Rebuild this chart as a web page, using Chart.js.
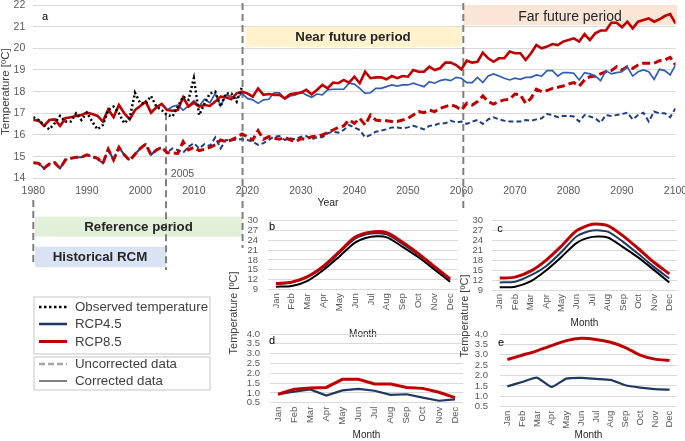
<!DOCTYPE html>
<html><head><meta charset="utf-8">
<script src="https://cdn.jsdelivr.net/npm/chart.js@4.4.1/dist/chart.umd.min.js"></script>
<style>
html,body{margin:0;padding:0;background:#fff;}
#wrap{position:relative;width:685px;height:441px;overflow:hidden;font-family:"Liberation Sans",Arial,sans-serif;background:#fff;}
canvas{position:absolute;}
.t{position:absolute;white-space:nowrap;transform:translate(-50%,-50%);line-height:1;}
.rot{position:absolute;white-space:nowrap;transform:translate(-50%,-50%) rotate(-90deg);line-height:1;font-size:11px;color:#404040;}
.lg{position:absolute;white-space:nowrap;transform:translateY(-50%);line-height:1;font-size:13.3px;color:#404040;}
.box{font-weight:bold;font-size:13.3px;color:#262626;}
</style></head><body>
<div id="wrap">
<canvas id="cMain" width="685" height="441" style="left:0;top:0"></canvas>
<canvas id="cB"></canvas>
<canvas id="cC"></canvas>
<canvas id="cD"></canvas>
<canvas id="cE"></canvas>
<svg width="685" height="441" style="position:absolute;left:0;top:0;pointer-events:none">
  <rect x="34" y="297" width="176" height="57" fill="none" stroke="#d9d9d9" stroke-width="1.5"/>
  <rect x="34" y="357" width="176" height="33" fill="none" stroke="#d9d9d9" stroke-width="1.5"/>
  <line x1="39" y1="307" x2="67" y2="307" stroke="#000" stroke-width="2.5" stroke-dasharray="2.5 2.5"/>
  <line x1="39" y1="324" x2="67" y2="324" stroke="#1f3864" stroke-width="2.5"/>
  <line x1="39" y1="341.5" x2="67" y2="341.5" stroke="#c00000" stroke-width="3"/>
  <line x1="39" y1="364" x2="67" y2="364" stroke="#a6a6a6" stroke-width="2.5" stroke-dasharray="6 3"/>
  <line x1="39" y1="381" x2="67" y2="381" stroke="#7f7f7f" stroke-width="2"/>
</svg>
<div class="lg" style="left:75px;top:307px">Observed temperature</div>
<div class="lg" style="left:75px;top:324px">RCP4.5</div>
<div class="lg" style="left:75px;top:341.5px">RCP8.5</div>
<div class="lg" style="left:75px;top:364px">Uncorrected data</div>
<div class="lg" style="left:75px;top:381px">Corrected data</div>

<div class="t box" style="left:353px;top:37px">Near future period</div>
<div class="t" style="left:570px;top:15.5px;font-size:14px;color:#262626">Far future period</div>
<div class="t box" style="left:138.5px;top:227px">Reference period</div>
<div class="t box" style="left:100px;top:257px">Historical RCM</div>

<div class="t" style="left:182.5px;top:173px;font-size:10.5px;color:#595959">2005</div>
<div class="t" style="left:328px;top:201.5px;font-size:10.5px;color:#262626">Year</div>

<div class="t" style="left:45px;top:16px;font-size:11px;color:#000">a</div>
<div class="t" style="left:272px;top:226px;font-size:11px;color:#000">b</div>
<div class="t" style="left:500px;top:228px;font-size:11px;color:#000">c</div>
<div class="t" style="left:272px;top:340px;font-size:11px;color:#000">d</div>
<div class="t" style="left:501px;top:342px;font-size:11px;color:#000">e</div>

<div class="rot" style="left:233px;top:313px">Temperature [ºC]</div>
<div class="rot" style="left:464px;top:316px">Temperature [ºC]</div>
</div>
<script>
// ---------- DATA ----------
const firstYear = 1980, lastYear = 2100;
const yearTicks = [1980,1990,2000,2010,2020,2030,2040,2050,2060,2070,2080,2090,2100];

// Observed temperature 1980-2019
const observed = [
16.82,16.69,16.46,16.26,16.54,16.88,16.62,16.62,17.00,16.69,
17.03,16.62,16.26,16.46,17.15,17.31,17.00,16.54,16.77,17.95,
17.46,17.46,17.80,17.31,17.15,16.92,16.85,17.31,17.77,17.62,
18.62,16.92,17.46,17.92,18.00,17.31,17.92,17.92,17.54,18.23];

// Corrected RCP8.5 1980-2100
const rcp85Corrected = [
16.69,16.66,16.42,16.69,16.72,16.42,16.77,16.82,16.88,16.92,
17.03,16.97,16.88,16.62,17.18,16.82,17.38,17.00,16.72,17.15,
17.34,17.54,17.03,17.28,17.43,17.15,17.12,17.15,17.74,17.31,
17.49,17.31,17.38,17.34,17.54,17.77,17.74,17.65,17.92,18.00,
17.92,17.77,18.15,17.85,17.89,17.85,17.85,17.69,17.88,17.92,
17.95,18.08,17.88,18.08,18.31,18.15,18.42,18.39,18.54,18.42,
18.69,18.39,18.92,18.62,18.66,18.66,18.57,18.72,18.62,18.72,
18.69,19.00,18.92,18.92,19.15,19.00,19.08,19.34,19.34,19.23,
19.03,19.43,19.34,19.38,19.80,19.54,19.38,19.54,19.54,19.85,
19.77,19.77,19.46,19.77,20.15,20.00,20.08,20.20,20.15,20.31,
20.38,20.46,20.31,20.66,20.38,20.69,20.82,20.82,21.18,21.18,
20.97,21.23,20.92,21.23,21.31,21.38,21.23,21.34,21.49,21.58,21.15];

// Corrected RCP4.5 1980-2100
const rcp45Corrected = [
16.69,16.66,16.42,16.69,16.72,16.42,16.77,16.82,16.88,16.92,
17.03,16.97,16.88,16.62,17.18,16.82,17.38,17.00,16.72,17.15,
17.34,17.54,17.03,17.28,17.43,17.15,17.31,17.38,17.15,17.34,
17.58,17.34,17.65,17.49,17.92,17.34,17.85,17.77,17.69,17.92,
17.69,17.62,17.46,17.62,17.65,17.95,17.95,17.65,17.80,17.85,
18.00,17.85,17.74,17.89,17.85,18.08,18.11,18.11,18.11,18.39,
18.35,18.15,17.92,17.95,18.15,18.15,18.23,18.31,18.26,18.31,
18.31,18.39,18.31,18.23,18.46,18.39,18.51,18.57,18.51,18.66,
18.62,18.42,18.42,18.66,18.42,18.72,18.82,18.72,18.62,18.54,
18.62,18.57,18.66,18.66,18.77,18.72,18.97,18.97,18.72,18.88,
18.88,18.85,18.54,18.88,18.82,18.72,18.51,18.97,18.82,18.88,
18.92,19.15,18.72,18.92,19.00,18.92,18.57,19.03,18.97,18.77,19.23];

// Uncorrected RCP8.5 1980-2100
const rcp85Uncorrected = [
14.72,14.69,14.46,14.66,14.72,14.46,14.85,14.92,14.97,14.97,
15.08,15.00,14.92,14.69,15.34,14.85,15.43,15.08,14.82,15.11,
15.38,15.58,15.08,15.31,15.43,15.18,15.18,15.15,15.69,15.31,
15.43,15.28,15.34,15.43,15.54,15.77,15.69,15.77,15.89,16.05,
15.92,15.77,16.20,15.80,15.92,15.85,15.80,15.89,15.77,15.69,
15.83,15.80,15.92,15.95,16.00,16.11,16.23,16.35,16.42,16.69,
16.54,16.77,16.46,16.92,16.69,16.66,16.66,16.62,16.62,16.69,
16.77,16.92,17.08,17.03,17.15,17.08,17.23,17.31,17.39,17.31,
17.15,17.46,17.38,17.54,17.80,17.54,17.43,17.54,17.62,17.65,
17.89,17.85,17.46,17.69,18.11,18.00,18.05,18.15,18.20,18.26,
18.35,18.42,18.26,18.54,18.69,18.72,18.82,18.92,18.97,19.15,
19.00,19.15,19.08,19.23,19.31,19.31,19.31,19.43,19.46,19.58,19.23];

// Uncorrected RCP4.5 1980-2100
const rcp45Uncorrected = [
14.72,14.69,14.46,14.66,14.72,14.46,14.85,14.92,14.97,14.97,
15.08,15.00,14.92,14.69,15.34,14.85,15.43,15.08,14.82,15.11,
15.38,15.58,15.08,15.31,15.43,15.18,15.38,15.31,15.18,15.46,
15.62,15.38,15.58,15.49,15.89,15.38,15.77,15.74,15.80,15.80,
15.77,15.69,15.54,15.62,15.77,15.92,15.95,15.77,15.85,15.80,
15.92,15.95,15.80,15.89,15.89,16.08,16.15,16.11,16.23,16.46,
16.35,16.23,15.89,16.00,16.15,16.20,16.26,16.35,16.35,16.31,
16.35,16.42,16.35,16.26,16.42,16.46,16.54,16.54,16.66,16.57,
16.62,16.51,16.62,16.69,16.51,16.72,16.82,16.72,16.66,16.62,
16.62,16.62,16.69,16.66,16.72,16.77,16.97,16.92,16.82,16.88,
16.88,16.85,16.62,16.92,16.85,16.77,16.57,16.92,16.88,16.92,
16.97,17.03,16.72,16.92,17.03,16.62,17.08,17.00,17.00,16.82,17.23];

// Monthly panels
const months = ['Jan','Feb','Mar','Apr','May','Jun','Jul','Aug','Sep','Oct','Nov','Dec'];
const observedMonthly = [9.8,10.0,11.6,14.9,19.0,23.3,25.1,24.9,22.0,18.8,15.1,11.3];
const nearRcp45 = [10.6,11.1,12.8,15.7,20.1,24.5,26.1,25.8,22.9,19.5,15.7,11.9];
const nearRcp85 = [10.8,11.2,12.9,16.1,20.5,25.0,26.5,26.3,23.4,19.9,16.0,12.2];
const farRcp45 = [11.3,11.5,13.4,16.2,20.5,25.3,27.0,26.7,23.6,19.9,16.0,12.5];
const farRcp85 = [12.6,12.9,14.7,18.0,22.3,27.0,28.9,28.5,25.4,21.5,17.4,13.9];
const nearDiff45 = [0.93,1.06,1.18,0.86,1.13,1.20,1.11,0.90,0.93,0.76,0.60,0.67];
const nearDiff85 = [0.93,1.18,1.25,1.28,1.69,1.69,1.45,1.45,1.27,1.23,1.03,0.76];
const farDiff45 = [1.48,1.69,1.90,1.45,1.85,1.89,1.84,1.79,1.53,1.42,1.35,1.32];
const farDiff85 = [2.77,2.98,3.19,3.44,3.68,3.79,3.74,3.60,3.35,2.98,2.79,2.73];
const tempTicks = [9,12,15,18,21,24,27,30];
const diffTicks = [0.5,1.0,1.5,2.0,2.5,3.0,3.5,4.0];

// ---------- COLOURS ----------
const RED = '#c00000', BLUE_SOLID = '#2f5fae', BLUE_DASH = '#203f80', NAVY = '#1f3864';

Chart.defaults.font.family = '"Liberation Sans", Arial, sans-serif';
Chart.defaults.color = '#595959';

const toXY = arr => arr.map((v, i) => ({x: firstYear + i, y: v}));

const periodPlugin = {
  id: 'periods',
  beforeDatasetsDraw(chart) {
    const {ctx, scales: {x, y}} = chart;
    ctx.save();
    const box = (x1, x2, y1, y2, col) => { ctx.fillStyle = col; ctx.fillRect(x1, y1, x2 - x1, y2 - y1); };
    box(x.getPixelForValue(2019.7), x.getPixelForValue(2060.1), y.getPixelForValue(21.0), y.getPixelForValue(20.07), '#fff2cc');
    box(x.getPixelForValue(2060.35), x.getPixelForValue(2100.3), y.getPixelForValue(22), y.getPixelForValue(21.08), '#fbe5d6');
    box(x.getPixelForValue(1980.3), x.getPixelForValue(2019.1), 216.7, 236.7, '#e2f0d9');
    box(x.getPixelForValue(1980.3), x.getPixelForValue(2004.8), 246.7, 267.3, '#dae3f3');
    ctx.strokeStyle = '#7f7f7f'; ctx.lineWidth = 2; ctx.setLineDash([7, 4]);
    const vline = (yr, y1, y2) => { const px = x.getPixelForValue(yr); ctx.beginPath(); ctx.moveTo(px, y1); ctx.lineTo(px, y2); ctx.stroke(); };
    vline(1980, 200, 263);
    vline(2004.8, y.getPixelForValue(17.0), 270);
    vline(2019.1, 3, 248);
    vline(2060.35, 3, 210);
    ctx.restore();
  }
};

new Chart(document.getElementById('cMain'), {
  type: 'line',
  data: {
    datasets: [
      {data: toXY(observed), borderColor: '#000', borderWidth: 2.5, borderDash: [2, 2.5], order: 0},
      {data: toXY(rcp85Corrected), borderColor: RED, borderWidth: 2.6, order: 1},
      {data: toXY(rcp45Corrected), borderColor: BLUE_SOLID, borderWidth: 1.7, order: 2},
      {data: toXY(rcp85Uncorrected), borderColor: RED, borderWidth: 3, borderDash: [8, 4], order: 3},
      {data: toXY(rcp45Uncorrected), borderColor: BLUE_DASH, borderWidth: 2, borderDash: [5, 3], order: 4}
    ]
  },
  options: {
    responsive: false, animation: false,
    layout: {padding: {left: 0, top: 5, right: 685 - 675.5, bottom: 441 - 178.3 - 32}},
    plugins: {legend: {display: false}, tooltip: {enabled: false}},
    elements: {point: {radius: 0}, line: {tension: 0, fill: false}},
    scales: {
      x: {
        type: 'linear', min: firstYear, max: lastYear,
        afterBuildTicks: s => { s.ticks = yearTicks.map(v => ({value: v})); },
        ticks: {autoSkip: false, padding: 6.4, font: {size: 10.5}, color: '#595959', callback: v => String(v)},
        grid: {display: false, drawTicks: false}, border: {display: false},
        afterFit: s => { s.height = 32; s.paddingLeft = 0; s.paddingRight = 0; }
      },
      y: {
        min: 14, max: 22,
        ticks: {autoSkip: false, stepSize: 1, padding: 8, font: {size: 10.5}, color: '#595959'},
        grid: {color: '#d9d9d9', drawTicks: false}, border: {display: false},
        title: {display: true, text: 'Temperature [ºC]', font: {size: 11.5, lineHeight: 1}, color: '#404040', padding: {top: 0, bottom: 0}},
        afterFit: s => { s.width = 33.3; s.paddingTop = 0; s.paddingBottom = 0; }
      }
    }
  },
  plugins: [periodPlugin]
});

function makePanel(id, g, datasets, yMin, yMax, yTicks, decimals, yPad, titlePadBottom, tension) {
  const el = document.getElementById(id);
  el.width = g.w; el.height = g.h;
  el.style.left = g.l + 'px'; el.style.top = g.t + 'px';
  el.style.width = g.w + 'px'; el.style.height = g.h + 'px';
  return new Chart(el, {
    type: 'line',
    data: {labels: months, datasets},
    options: {
      responsive: false, animation: false,
      layout: {padding: {left: 0, top: g.caT - g.t, right: g.l + g.w - g.caR, bottom: 0}},
      plugins: {legend: {display: false}, tooltip: {enabled: false}},
      elements: {point: {radius: 0}, line: {tension: tension, fill: false}},
      scales: {
        x: {
          offset: true,
          ticks: {autoSkip: false, maxRotation: 90, minRotation: 90, padding: 4, font: {size: 9.5}, color: '#595959'},
          grid: {display: false, drawTicks: false}, border: {display: false},
          title: {display: true, text: 'Month', font: {size: 10}, color: '#262626', padding: {top: 0, bottom: titlePadBottom}},
          afterFit: s => { s.height = g.t + g.h - g.caB; s.paddingLeft = 0; s.paddingRight = 0; }
        },
        y: {
          min: yMin, max: yMax,
          afterBuildTicks: s => { s.ticks = yTicks.map(v => ({value: v})); },
          ticks: {autoSkip: false, padding: yPad, font: {size: 9.5}, color: '#595959',
                  callback: v => Number(v).toFixed(decimals)},
          grid: {color: '#d9d9d9', drawTicks: false}, border: {display: false},
          afterFit: s => { s.width = g.caL - g.l; s.paddingTop = 0; s.paddingBottom = 0; }
        }
      }
    }
  });
}

makePanel('cB', {l: 236, t: 210, w: 226, h: 135, caL: 268, caR: 458, caT: 220.7, caB: 289.3}, [
  {data: nearRcp85, borderColor: RED, borderWidth: 3},
  {data: nearRcp45, borderColor: NAVY, borderWidth: 2},
  {data: observedMonthly, borderColor: '#000', borderWidth: 2}
], 9, 30, tempTicks, 0, 10, 5, 0.25);

makePanel('cC', {l: 462, t: 210, w: 223, h: 135, caL: 492, caR: 677, caT: 220.7, caB: 290}, [
  {data: farRcp85, borderColor: RED, borderWidth: 3},
  {data: farRcp45, borderColor: NAVY, borderWidth: 2},
  {data: observedMonthly, borderColor: '#000', borderWidth: 2}
], 9, 30, tempTicks, 0, 9, 15.5, 0.25);

makePanel('cD', {l: 236, t: 326, w: 230, h: 115, caL: 270, caR: 463, caT: 334, caB: 402.7}, [
  {data: nearDiff85, borderColor: RED, borderWidth: 3},
  {data: nearDiff45, borderColor: NAVY, borderWidth: 2.2}
], 0.5, 4.0, diffTicks, 1, 10, 0, 0);

makePanel('cE', {l: 462, t: 326, w: 223, h: 115, caL: 500, caR: 677, caT: 334, caB: 406.7}, [
  {data: farDiff85, borderColor: RED, borderWidth: 3},
  {data: farDiff45, borderColor: NAVY, borderWidth: 2.2}
], 0.5, 4.0, diffTicks, 1, 12, 0, 0.15);
</script>
</body></html>
